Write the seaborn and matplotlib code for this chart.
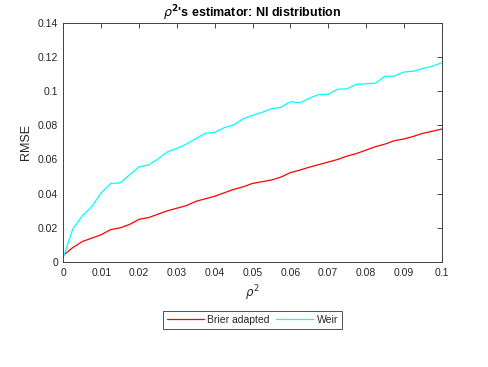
import numpy as np
import pandas as pd
import matplotlib
matplotlib.use("Agg")
import matplotlib.pyplot as plt
import seaborn as sns

rho2 = np.round(np.arange(0, 0.1001, 0.0025), 4)

brier_adapted = [0.004, 0.0085, 0.012, 0.014, 0.016, 0.019, 0.020, 0.022, 0.025, 0.026,
                 0.028, 0.030, 0.0315, 0.033, 0.0355, 0.037, 0.0385, 0.0405, 0.0425, 0.044,
                 0.046, 0.047, 0.048, 0.0497, 0.0523, 0.0538, 0.0555, 0.057, 0.0585, 0.060,
                 0.062, 0.0635, 0.0655, 0.0675, 0.069, 0.071, 0.072, 0.0735, 0.0753, 0.0765,
                 0.0778]

weir = [0.003, 0.0195, 0.027, 0.0325, 0.0405, 0.046, 0.0463, 0.051, 0.0557, 0.0568,
        0.0603, 0.0645, 0.0665, 0.069, 0.0722, 0.0753, 0.0759, 0.0786, 0.0802, 0.0838,
        0.0858, 0.0876, 0.0897, 0.0905, 0.0938, 0.0932, 0.0958, 0.098, 0.0982, 0.1011,
        0.1014, 0.104, 0.1043, 0.1046, 0.1087, 0.1088, 0.1112, 0.1116, 0.1133, 0.1145,
        0.1166]

series_names = ["Brier adapted", "Weir"]
x_ticks = [0, 0.01, 0.02, 0.03, 0.04, 0.05, 0.06, 0.07, 0.08, 0.09, 0.1]
x_ticklabels = ["0", "0.01", "0.02", "0.03", "0.04", "0.05", "0.06", "0.07", "0.08", "0.09", "0.1"]
y_ticks = [0, 0.02, 0.04, 0.06, 0.08, 0.1, 0.12, 0.14]
y_ticklabels = ["0", "0.02", "0.04", "0.06", "0.08", "0.1", "0.12", "0.14"]

df = pd.concat([
    pd.DataFrame({"rho2": rho2, "RMSE": brier_adapted, "method": series_names[0]}),
    pd.DataFrame({"rho2": rho2, "RMSE": weir, "method": series_names[1]}),
])

sns.set_style("white")
plt.rcParams['font.family'] = ['Liberation Sans', 'DejaVu Sans']
plt.rcParams['mathtext.fontset'] = 'dejavusans'

fig = plt.figure(figsize=(4.88, 3.67), dpi=100)
ax = fig.add_axes([0.13, 0.286, 0.775, 0.652])

sns.lineplot(data=df, x="rho2", y="RMSE", hue="method",
             palette=["#ff0000", "#00ffff"], linewidth=0.9, ax=ax, legend=False)

ax.set_xlim(0, 0.1)
ax.set_ylim(0, 0.14)
ax.set_xticks(x_ticks)
ax.set_xticklabels(x_ticklabels)
ax.set_yticks(y_ticks)
ax.set_yticklabels(y_ticklabels)
ax.tick_params(direction="in", length=3.5, width=0.6, labelsize=7.5,
               colors="#262626", top=True, right=True, pad=4)

for side in ax.spines:
    ax.spines[side].set_color("#404040")
    ax.spines[side].set_linewidth(0.7)

ax.set_xlabel(r"$\rho^2$", fontsize=8.5, color="#262626", labelpad=4)
ax.set_ylabel("RMSE", fontsize=9, color="#262626", labelpad=4)
ax.set_title(r"$\rho^\mathbf{2}$'s estimator: NI distribution", fontsize=9,
             fontweight="bold", color="black", pad=4)

handles = [plt.Line2D([], [], color=c, linewidth=0.9) for c in ["#ff0000", "#00ffff"]]
leg = fig.legend(handles, series_names, loc="center", bbox_to_anchor=(0.517, 0.128),
                 ncol=2, frameon=True, fancybox=False, fontsize=7.5, handlelength=3.6,
                 borderpad=0.35, columnspacing=0.6, handletextpad=0.3, borderaxespad=0)
leg.get_frame().set_edgecolor("#262626")
leg.get_frame().set_linewidth(0.7)

fig.savefig("out.png", dpi=100, facecolor="white")
